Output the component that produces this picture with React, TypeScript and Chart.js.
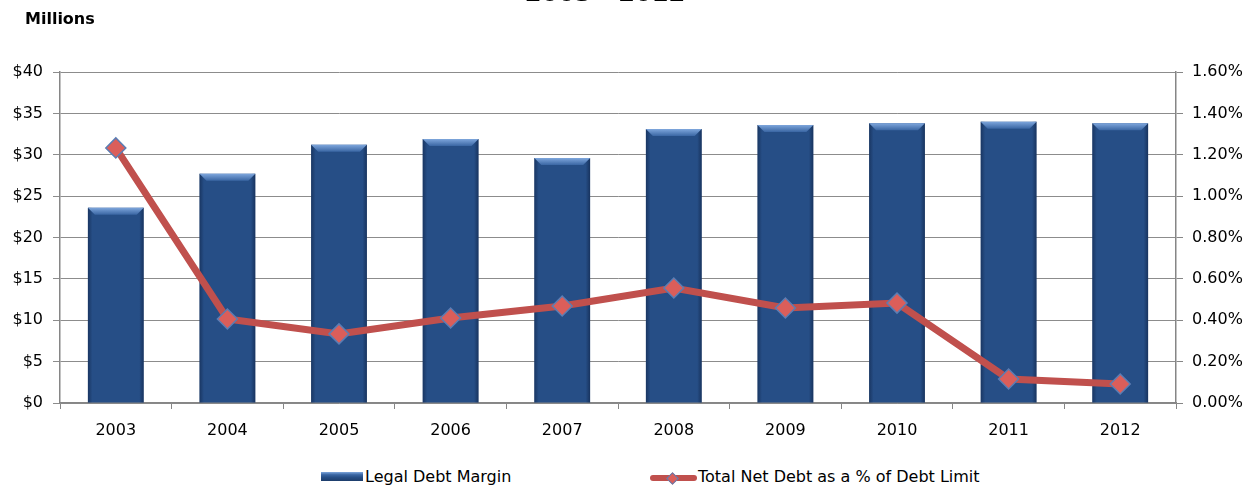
import React, { useEffect, useRef } from 'react';
import { Chart, registerables } from 'chart.js';

Chart.register(...registerables);

const years = ['2003', '2004', '2005', '2006', '2007', '2008', '2009', '2010', '2011', '2012'];
const legalDebtMargin = [23.6, 27.7, 31.2, 31.9, 29.6, 33.1, 33.6, 33.8, 34.0, 33.8];
const netDebtPct = [1.233, 0.406, 0.334, 0.411, 0.469, 0.556, 0.459, 0.483, 0.116, 0.092];
const leftAxis = { min: 0, max: 40, step: 5 };
const rightAxis = { min: 0, max: 1.6, step: 0.2 };
const titleText = '2003 - 2012';
const unitText = 'Millions';
const barLabel = 'Legal Debt Margin';
const lineLabel = 'Total Net Debt as a % of Debt Limit';

const FONT = "'DejaVu Sans', sans-serif";
const W = 1258;
const H = 440;

const bevelPlugin = {
  id: 'bevel',
  afterDatasetDraw(chart: any, args: any) {
    if (args.index !== 0) return;
    const ctx = chart.ctx;
    const meta = chart.getDatasetMeta(0);
    ctx.save();
    meta.data.forEach((bar: any) => {
      const left = bar.x - bar.width / 2;
      const right = bar.x + bar.width / 2;
      const top = bar.y;
      const bottom = bar.base;
      const g = ctx.createLinearGradient(left, 0, right, 0);
      g.addColorStop(0, 'rgba(10,25,55,0.45)');
      g.addColorStop(0.08, 'rgba(10,25,55,0)');
      g.addColorStop(0.92, 'rgba(10,25,55,0)');
      g.addColorStop(1, 'rgba(10,25,55,0.5)');
      ctx.fillStyle = g;
      ctx.fillRect(left, top, right - left, bottom - top);
      const b = 7;
      const tg = ctx.createLinearGradient(0, top, 0, top + b);
      tg.addColorStop(0, '#7ea6dc');
      tg.addColorStop(1, '#3a66a3');
      ctx.fillStyle = tg;
      ctx.beginPath();
      ctx.moveTo(left, top);
      ctx.lineTo(right, top);
      ctx.lineTo(right - b, top + b);
      ctx.lineTo(left + b, top + b);
      ctx.closePath();
      ctx.fill();
    });
    ctx.restore();
  },
};

function ChartCanvas() {
  const ref = useRef<HTMLCanvasElement | null>(null);
  useEffect(() => {
    if (!ref.current) return;
    Chart.defaults.font.family = FONT;
    Chart.defaults.font.size = 16;
    Chart.defaults.color = '#000';
    const chart = new Chart(ref.current, {
      type: 'bar',
      data: {
        labels: years,
        datasets: [
          {
            type: 'bar',
            label: barLabel,
            data: legalDebtMargin,
            backgroundColor: '#264e86',
            borderWidth: 0,
            yAxisID: 'y',
            barPercentage: 0.5,
            categoryPercentage: 1,
            order: 2,
          },
          {
            type: 'line',
            label: lineLabel,
            data: netDebtPct,
            borderColor: '#C0504D',
            borderWidth: 7,
            pointStyle: 'rectRot',
            pointRadius: 10,
            pointBackgroundColor: '#DB5E5A',
            pointBorderColor: '#5B7DB3',
            pointBorderWidth: 1.5,
            tension: 0,
            yAxisID: 'y1',
            order: 1,
          },
        ],
      } as any,
      plugins: [bevelPlugin],
      options: {
        animation: false,
        responsive: false,
        maintainAspectRatio: false,
        layout: { padding: { top: 72, left: 0, right: 0, bottom: 0 } },
        plugins: {
          legend: { display: false },
          tooltip: { enabled: false },
          title: { display: false },
        },
        scales: {
          x: {
            offset: true,
            grid: {
              display: true,
              offset: true,
              drawOnChartArea: false,
              tickLength: 6,
              color: '#868686',
            },
            border: { display: true, color: '#868686', width: 1.5 },
            ticks: { padding: 12, color: '#000', font: { size: 16, family: FONT } },
            afterFit: (s: any) => {
              s.height = H - 403;
            },
          },
          y: {
            position: 'left',
            min: leftAxis.min,
            max: leftAxis.max,
            grid: { color: '#8c8c8c', tickLength: 7, lineWidth: 1 },
            border: { display: true, color: '#868686', width: 1.5 },
            ticks: {
              stepSize: leftAxis.step,
              padding: 10,
              color: '#000',
              font: { size: 16, family: FONT },
              callback: (v: any) => '$' + Math.round(Number(v)),
            },
            afterFit: (s: any) => {
              s.width = 60;
            },
          },
          y1: {
            position: 'right',
            min: rightAxis.min,
            max: rightAxis.max,
            grid: { drawOnChartArea: false, tickLength: 7, color: '#868686' },
            border: { display: true, color: '#868686', width: 1.5 },
            ticks: {
              stepSize: rightAxis.step,
              padding: 9,
              color: '#000',
              font: { size: 16, family: FONT },
              callback: (v: any) => Number(v).toFixed(2) + '%',
            },
            afterFit: (s: any) => {
              s.width = W - 1176;
            },
          },
        },
      } as any,
    });
    return () => chart.destroy();
  }, []);
  return <canvas ref={ref} width={W} height={H} style={{ position: 'absolute', left: 0, top: 0, width: W, height: H }} />;
}

export default function App() {
  return (
    <div
      style={{
        position: 'absolute',
        left: 0,
        top: 0,
        width: W,
        height: 487,
        overflow: 'hidden',
        background: '#fff',
        fontFamily: FONT,
        color: '#000',
      }}
    >
      <ChartCanvas />
      <div
        style={{
          position: 'absolute',
          left: 0,
          width: 1210,
          top: -19.5,
          textAlign: 'center',
          fontSize: 24,
          lineHeight: '24px',
          fontWeight: 'bold',
          whiteSpace: 'nowrap',
        }}
      >
        {titleText}
      </div>
      <div
        style={{
          position: 'absolute',
          left: 25,
          top: 10.5,
          fontSize: 16,
          lineHeight: '16px',
          fontWeight: 'bold',
          whiteSpace: 'nowrap',
        }}
      >
        {unitText}
      </div>
      <div
        style={{
          position: 'absolute',
          left: 321,
          top: 472,
          width: 42,
          height: 9,
          background: 'linear-gradient(to bottom, #7ea6dc 0%, #3a66a3 30%, #264e86 60%, #1d3d6b 100%)',
        }}
      />
      <div style={{ position: 'absolute', left: 365, top: 469, fontSize: 16, lineHeight: '16px', whiteSpace: 'nowrap' }}>
        {barLabel}
      </div>
      <div
        style={{
          position: 'absolute',
          left: 650,
          top: 475,
          width: 47,
          height: 6,
          borderRadius: 3,
          background: '#C0504D',
        }}
      />
      <div
        style={{
          position: 'absolute',
          left: 667.5,
          top: 473.5,
          width: 9,
          height: 9,
          transform: 'rotate(45deg)',
          background: '#DB5E5A',
          border: '1px solid #5B7DB3',
          boxSizing: 'border-box',
        }}
      />
      <div style={{ position: 'absolute', left: 698, top: 469, fontSize: 16, lineHeight: '16px', whiteSpace: 'nowrap' }}>
        {lineLabel}
      </div>
    </div>
  );
}
